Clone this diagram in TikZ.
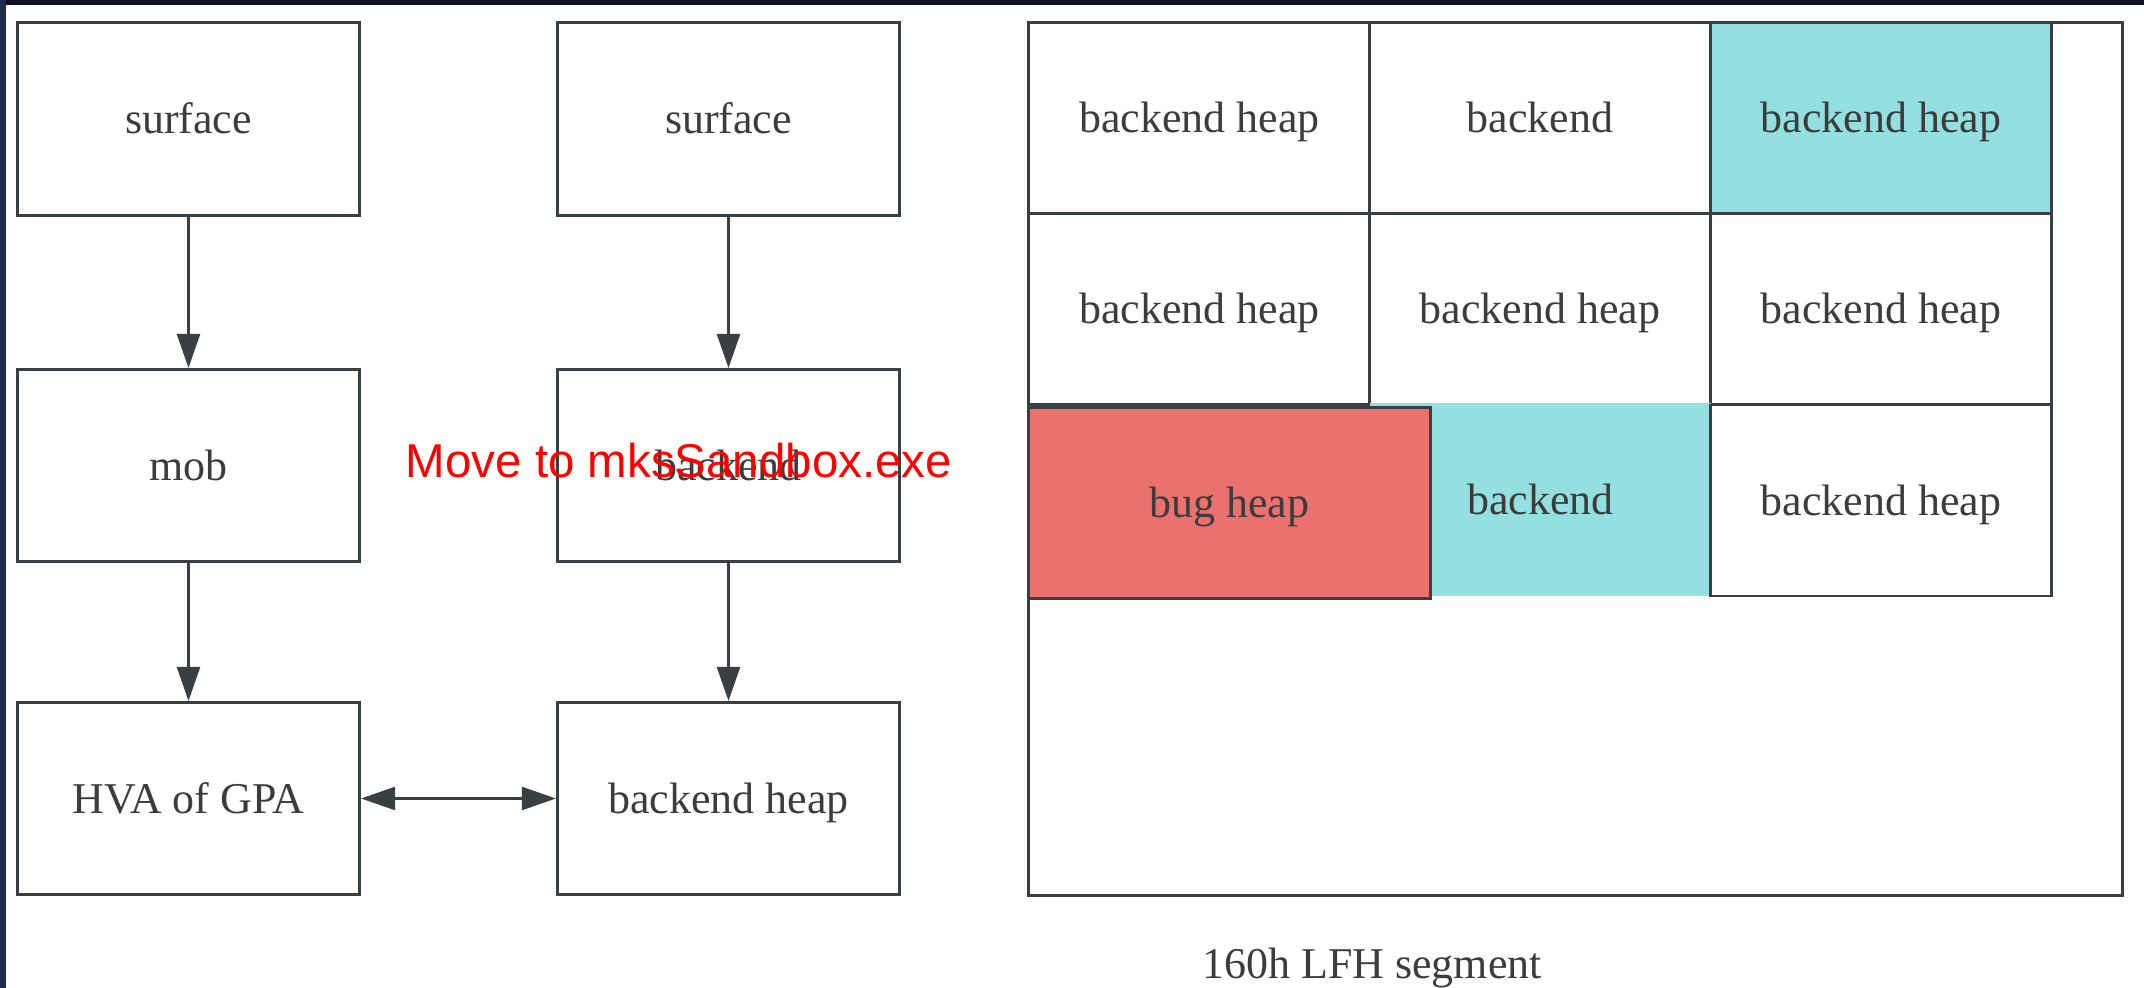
\documentclass[tikz,border=0pt]{standalone}
\usepackage{fontspec}
\setmainfont{Liberation Serif}
\newfontfamily\notefont{Liberation Sans}
\usepackage{xcolor}
\usepackage{tikz}
\usetikzlibrary{arrows.meta}
\definecolor{edgegray}{HTML}{3A3F44}
\definecolor{textgray}{HTML}{3C3C3C}
\definecolor{tealfill}{HTML}{94DFE0}
\definecolor{bugred}{HTML}{EB716E}
\definecolor{frameleft}{HTML}{1E2A4A}
\definecolor{frametop}{HTML}{0D1120}
\tikzset{
  box/.style     ={rectangle,draw=edgegray,line width=0.85pt,minimum width=3.42cm,minimum height=1.92cm,inner sep=0pt,text=textgray,text height=8.5pt,text depth=0pt,font=\fontsize{12.5}{15}\selectfont},
  cell/.style    ={rectangle,draw=edgegray,line width=0.7pt,minimum width=3.41cm,minimum height=1.91cm,inner sep=0pt,text=textgray,text height=8.5pt,text depth=0pt,font=\fontsize{12.5}{15}\selectfont},
  tealcell/.style={fill=tealfill},
  bugcell/.style ={fill=bugred,line width=0.85pt},
  segbox/.style  ={rectangle,draw=edgegray,line width=0.85pt,minimum width=10.93cm,minimum height=8.72cm,inner sep=0pt},
  link/.style    ={edgegray,line width=0.7pt,-{Triangle[length=3.4mm,width=2.3mm]}},
  twoway/.style  ={edgegray,line width=0.7pt,{Triangle[length=3.4mm,width=2.3mm]}-{Triangle[length=3.4mm,width=2.3mm]}},
}

\begin{document}
\begin{tikzpicture}[x=0.01cm,y=-0.01cm]
  \fill[white] (0,0) rectangle (2144,988);
  \fill[frametop] (0,0) rectangle (2144,5);
  \fill[frameleft] (0,0) rectangle (6,988);
  \useasboundingbox (0,0) rectangle (2144,988);

  % left: two chains
  \node[box] (surfA) at (188.5,119)   {surface};
  \node[box] (mobA)  at (188.5,465.5) {mob};
  \node[box] (hvaA)  at (188.5,798.5) {HVA of GPA};
  \node[box] (surfB) at (728.5,119)   {surface};
  \node[box] (backB) at (728.5,465.5) {backend};
  \node[box] (heapB) at (728.5,798.5) {backend heap};
  \draw[link] (surfA) -- (mobA);
  \draw[link] (mobA) -- (hvaA);
  \draw[link] (surfB) -- (backB);
  \draw[link] (backB) -- (heapB);
  \draw[twoway] (hvaA) -- (heapB);

  % right: LFH segment
  \node[segbox] (seg) at (1575.5,459) {};
  \node[cell]          (c11) at (1199.5,118) {backend heap};
  \node[cell]          (c12) at (1540,118)   {backend};
  \node[cell,tealcell] (c13) at (1881,118)   {backend heap};
  \node[cell]          (c21) at (1199.5,309) {backend heap};
  \node[cell]          (c22) at (1540,309)   {backend heap};
  \node[cell]          (c23) at (1881,309)   {backend heap};
  \node[cell,draw=none,tealcell,minimum height=1.93cm] (c32) at (1540.5,499.5) {backend};
  \node[cell]          (c33) at (1881,500.5) {backend heap};
  \node[cell,bugcell,minimum width=4.01cm] (bug) at (1229.5,503) {bug heap};
  \node[anchor=base,text=textgray,font=\fontsize{12.5}{15}\selectfont] (caption) at (1372,978) {160h LFH segment};

  \node[anchor=base,text=red,inner sep=0pt,font=\notefont\fontsize{13.5}{16}\selectfont] (note) at (679,478) {Move to mksSandbox.exe};
\end{tikzpicture}
\end{document}
